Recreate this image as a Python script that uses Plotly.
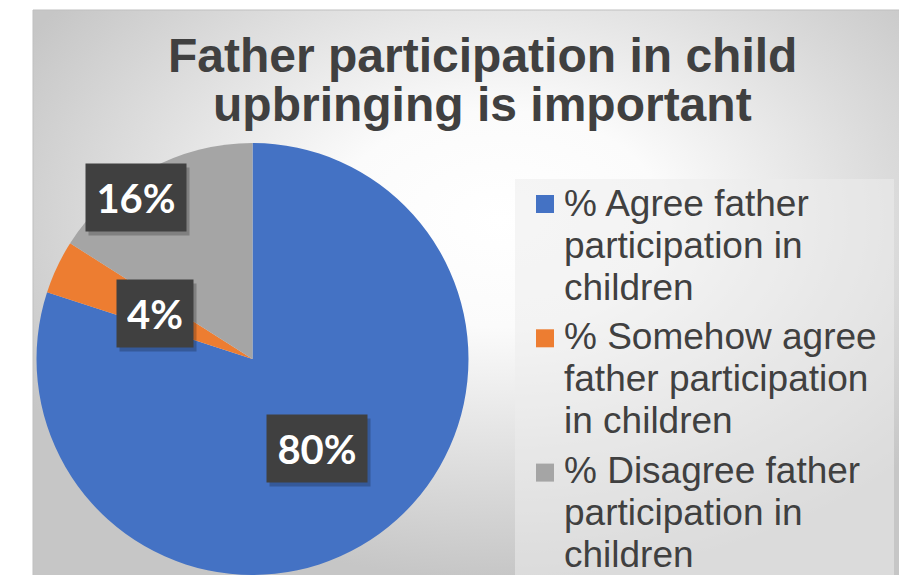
import base64
import math

import plotly.graph_objects as go

W, H = 899, 575

TITLE_LINES = ["Father participation in child", "upbringing is important"]
CATEGORIES = [
    "% Agree father participation in children",
    "% Somehow agree father participation in children",
    "% Disagree father participation in children",
]
LEGEND_LINES = [
    ["% Agree father", "participation in", "children"],
    ["% Somehow agree", "father participation", "in children"],
    ["% Disagree father", "participation in", "children"],
]
SHARES = [80, 4, 16]
COLORS = ["#4472C4", "#ED7D31", "#A5A5A5"]

# label placement: fraction of the radius and a small angular turn (degrees)
LABEL_RADIUS = [0.51, 0.50, 0.92]
LABEL_TURN = [0, 0, -7]

TEXT_COLOR = "#404040"


def fx(x):
    """pixel x -> paper x"""
    return x / W


def fy(y):
    """pixel y (from top) -> paper y"""
    return 1 - y / H


# pie geometry in pixels
PIE_LEFT, PIE_RIGHT, PIE_TOP = 35, 470, 143
dom_x = [fx(PIE_LEFT), fx(PIE_RIGHT)]
dom_y = [0, fy(PIE_TOP)]
radius = min(PIE_RIGHT - PIE_LEFT, H - PIE_TOP) / 2
cx = (PIE_LEFT + PIE_RIGHT) / 2
cy = H - (H - PIE_TOP) / 2

fig = go.Figure(
    go.Pie(
        labels=CATEGORIES,
        values=SHARES,
        sort=False,
        direction="clockwise",
        rotation=0,
        marker=dict(colors=COLORS, line=dict(width=0)),
        textinfo="none",
        hoverinfo="label+percent",
        showlegend=False,
        domain=dict(x=dom_x, y=dom_y),
    )
)

# radial grey-white gradient for the chart area
bg_w, bg_h = 880, 580
svg = (
    f'<svg xmlns="http://www.w3.org/2000/svg" width="{bg_w}" height="{bg_h}" '
    f'viewBox="0 0 {bg_w} {bg_h}" preserveAspectRatio="none">'
    '<defs><radialGradient id="g" cx="0.53" cy="0.36" r="0.62">'
    '<stop offset="0" stop-color="#ffffff"/>'
    '<stop offset="0.3" stop-color="#fbfbfb"/>'
    '<stop offset="1" stop-color="#c6c6c6"/>'
    '</radialGradient></defs>'
    f'<rect width="{bg_w}" height="{bg_h}" fill="url(#g)"/></svg>'
)
src = "data:image/svg+xml;base64," + base64.b64encode(svg.encode()).decode()
fig.add_layout_image(
    source=src, xref="paper", yref="paper",
    x=fx(33), y=fy(10), sizex=bg_w / W, sizey=bg_h / H,
    xanchor="left", yanchor="top", sizing="stretch", layer="below",
)

# chart-area border (top and left edges visible)
fig.add_shape(
    type="rect", xref="paper", yref="paper",
    x0=fx(33), x1=fx(33 + bg_w), y0=fy(10 + bg_h), y1=fy(10),
    line=dict(color="#bfbfbf", width=1), fillcolor="rgba(0,0,0,0)", layer="below",
)

# title
title_baselines = [72, 121]
for text, base in zip(TITLE_LINES, title_baselines):
    fig.add_annotation(
        text=f"<b>{text}</b>", xref="paper", yref="paper",
        x=fx(482), y=fy(base - 0.3465 * 48), xanchor="center", yanchor="middle",
        showarrow=False,
        font=dict(family="Liberation Sans, Arial", size=48, color=TEXT_COLOR),
    )

# legend panel
fig.add_shape(
    type="rect", xref="paper", yref="paper",
    x0=fx(515), x1=fx(894), y0=fy(600), y1=fy(179),
    line=dict(width=0), fillcolor="rgba(236,236,236,0.55)", layer="below",
)
LEG_FONT = 37
for i, (lines, color) in enumerate(zip(LEGEND_LINES, COLORS)):
    mid = 204 + 134.3 * i
    fig.add_shape(
        type="rect", xref="paper", yref="paper",
        x0=fx(536), x1=fx(554), y0=fy(mid + 9), y1=fy(mid - 9),
        line=dict(width=0), fillcolor=color,
    )
    for j, line in enumerate(lines):
        base = 216 + 133.5 * i + 42 * j
        fig.add_annotation(
            text=line, xref="paper", yref="paper",
            x=fx(562), y=fy(base - 0.3465 * LEG_FONT),
            xanchor="left", yanchor="middle", showarrow=False,
            font=dict(family="Liberation Sans, Arial", size=LEG_FONT, color=TEXT_COLOR),
        )

# data labels on dark boxes
total = sum(SHARES)
start = 0.0
for share, frac, turn in zip(SHARES, LABEL_RADIUS, LABEL_TURN):
    span = 360 * share / total
    ang = math.radians(start + span / 2 + turn)
    start += span
    lx = cx + frac * radius * math.sin(ang)
    ly = cy - frac * radius * math.cos(ang)
    text = f"{round(100 * share / total)}%"
    box_w = 24 * len(text) + 8
    common = dict(
        xref="paper", yref="paper", x=fx(lx), y=fy(ly),
        xanchor="center", yanchor="middle", showarrow=False,
        width=box_w, height=47, borderpad=10,
    )
    # soft drop shadow behind the label box
    fig.add_annotation(
        text=" ", bgcolor="rgba(0,0,0,0.22)", xshift=3, yshift=-4,
        font=dict(family="Lato", size=40), **common,
    )
    fig.add_annotation(
        text=f"<b>{text}</b>", bgcolor="#404040",
        font=dict(family="Lato", size=40, color="#ffffff"), **common,
    )

fig.update_layout(
    width=W, height=H, autosize=False,
    margin=dict(l=0, r=0, t=0, b=0),
    paper_bgcolor="#ffffff", plot_bgcolor="rgba(0,0,0,0)",
    showlegend=False,
)

fig.write_html("out.html")
